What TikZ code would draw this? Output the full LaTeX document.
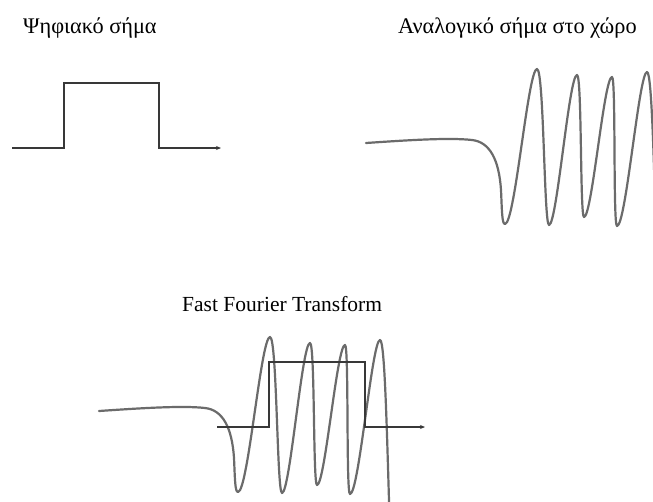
\documentclass[tikz,border=0pt]{standalone}
\usepackage{fontspec}
\setmainfont{Liberation Serif}
\usetikzlibrary{arrows.meta}
\tikzset{
  pulse/.style={draw=black!78, line width=1.6pt, line join=miter, -{Stealth[length=5pt,width=4pt]}},
  wave/.style={draw=black!58, line width=2.2pt, line cap=round, line join=round},
  label/.style={anchor=base west, inner sep=0pt, font=\fontsize{21.5}{24}\selectfont},
  glabel/.style={label, font=\fontsize{22.3}{25}\selectfont}
}
\newcommand{\wavepath}{(366,143) .. controls (410,140) and (450,137.5) .. (472,140)
  .. controls (490,142) and (499,160) .. (501,190)
  .. controls (502,212) and (502,224) .. (505,224)
  .. controls (515,224) and (528,69) .. (537,69)
  .. controls (544,69) and (544,225) .. (549,225)
  .. controls (557,225) and (569,75) .. (577,75)
  .. controls (582,75) and (580,217) .. (584,217)
  .. controls (592,217) and (604,77) .. (612,77)
  .. controls (616,77) and (613,226) .. (617,226)
  .. controls (626,226) and (639,72) .. (647,72)
  .. controls (652,72) and (654,170) .. (657,265)}
\begin{document}
\begin{tikzpicture}[x=1pt,y=-1pt]
\useasboundingbox[fill=white] (0,0) rectangle (653,501);
\node[glabel] (digital) at (23,33) {Ψηφιακό σήμα};
\node[glabel] (analog) at (398,33) {Αναλογικό σήμα στο χώρο};
\node[label] (fft) at (182,311) {Fast Fourier Transform};
\begin{scope}
  \clip (0,0) rectangle (653,501);
  % top-left digital pulse
  \draw[pulse] (12,148) -- (64,148) -- (64,83) -- (159,83) -- (159,148) -- (221,148);
  % top-right analog wave
  \draw[wave] \wavepath;
  % bottom combined
  \draw[wave, shift={(-267,268)}] \wavepath;
  \draw[pulse] (217,427) -- (269,427) -- (269,362) -- (365,362) -- (365,427) -- (425,427);
\end{scope}
\end{tikzpicture}
\end{document}
